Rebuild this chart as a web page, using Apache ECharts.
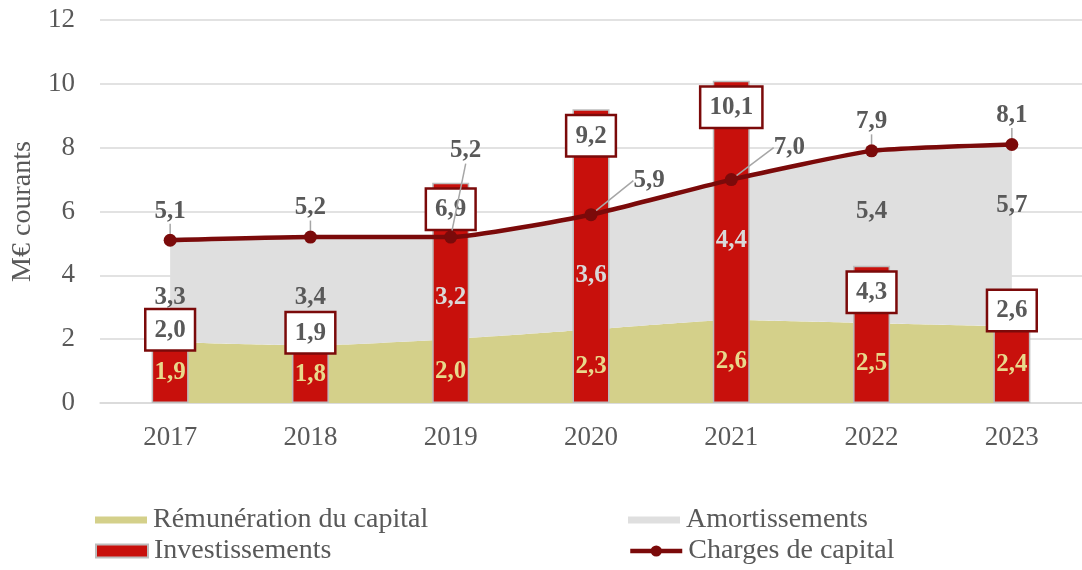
<!DOCTYPE html>
<html>
<head>
<meta charset="utf-8">
<script src="https://cdn.jsdelivr.net/npm/echarts@6/dist/echarts.min.js"></script>
<style>
  html, body { margin: 0; padding: 0; background: #fff; }
  #chart { width: 1082px; height: 570px; }
</style>
</head>
<body>
<div id="chart"></div>
<script>
// Capital costs, M€ (current euros)
const years = ['2017', '2018', '2019', '2020', '2021', '2022', '2023'];
const remuneration = [1.9, 1.8, 2.0, 2.3, 2.6, 2.5, 2.4];
const amortissements = [3.3, 3.4, 3.2, 3.6, 4.4, 5.4, 5.7];
const investissements = [2.0, 1.9, 6.9, 9.2, 10.1, 4.3, 2.6];
const charges = [5.1, 5.2, 5.2, 5.9, 7.0, 7.9, 8.1];
const yTicks = [0, 2, 4, 6, 8, 10, 12];

const FONT = '"Liberation Serif", "DejaVu Serif", serif';
const GREY_TEXT = '#595959';
const RED_BAR = '#C8100C';
const DARK_RED = '#7B0A0A';
const YELLOW = '#D4D08A';
const LIGHT_GREY = '#DFDFDF';

const fmt = v => v.toFixed(1).replace('.', ',');

const chart = echarts.init(document.getElementById('chart'), null, { renderer: 'canvas' });

// leader-line placements for the crowded line labels (2019-2021)
const lineLabelShift = { 2: [15, -57], 3: [58, -5], 4: [58, -3] };

// one legend entry per slot: two columns, two rows
function legendEntry(name, left, top, itemHeight, icon) {
  const entry = {
    data: [name], left: left, top: top, padding: 0,
    itemWidth: 52, itemHeight: itemHeight, itemGap: 0,
    lineStyle: { width: 4.5 },
    textStyle: { fontFamily: FONT, fontSize: 28, color: GREY_TEXT, lineHeight: 30, padding: [0, 0, 0, 1] }
  };
  if (icon) entry.icon = icon;
  return entry;
}

const option = {
  animation: false,
  textStyle: { fontFamily: FONT },
  grid: { left: 100, top: 20, width: 988, height: 383 },
  legend: [
    legendEntry('Rémunération du capital', 95, 505, 7, 'rect'),
    legendEntry('Investissements', 95, 536, 13, 'rect'),
    legendEntry('Amortissements', 628, 505, 7, 'rect'),
    legendEntry('Charges de capital', 628, 536, 14)
  ],
  xAxis: {
    type: 'category',
    data: years,
    boundaryGap: true,
    axisLine: { lineStyle: { color: '#D9D9D9', width: 1.5 } },
    axisTick: { show: false },
    axisLabel: { fontFamily: FONT, fontSize: 27, color: GREY_TEXT, margin: 21 }
  },
  yAxis: {
    type: 'value',
    min: yTicks[0], max: yTicks[yTicks.length - 1], interval: yTicks[1] - yTicks[0],
    name: 'M€ courants',
    nameLocation: 'middle', nameGap: 56, nameRotate: 90,
    nameTextStyle: { fontFamily: FONT, fontSize: 28, color: GREY_TEXT },
    axisLine: { show: false },
    axisTick: { show: false },
    axisLabel: { fontFamily: FONT, fontSize: 27, color: GREY_TEXT, margin: 25 },
    splitLine: { lineStyle: { color: '#D9D9D9', width: 1.5 } }
  },
  series: [
    {
      name: 'Rémunération du capital',
      type: 'line', stack: 'capital', z: 1, smooth: 0.15,
      symbol: 'none', lineStyle: { width: 0 },
      itemStyle: { color: YELLOW },
      areaStyle: { color: YELLOW, opacity: 1 },
      data: remuneration
    },
    {
      name: 'Amortissements',
      type: 'line', stack: 'capital', z: 1, smooth: 0.15,
      symbol: 'none', lineStyle: { width: 0 },
      itemStyle: { color: LIGHT_GREY },
      areaStyle: { color: LIGHT_GREY, opacity: 1 },
      data: amortissements
    },
    {
      name: 'Investissements',
      type: 'bar', z: 2, barWidth: 37,
      itemStyle: { color: RED_BAR, borderColor: '#BDBDBD', borderWidth: 1.5 },
      label: {
        show: true, position: 'insideTop', distance: 7,
        formatter: p => fmt(p.value),
        fontFamily: FONT, fontSize: 25, fontWeight: 'bold', color: GREY_TEXT,
        backgroundColor: '#fff', borderColor: DARK_RED, borderWidth: 2.5,
        padding: [6, 8, 5, 8], lineHeight: 28
      },
      data: investissements.map(v => (v < 3
        ? { value: v, label: { offset: [0, -36] } }
        : { value: v }))
    },
    {
      name: 'Charges de capital',
      type: 'line', z: 5, smooth: 0.15,
      symbol: 'circle', symbolSize: 13,
      lineStyle: { color: DARK_RED, width: 4.5 },
      itemStyle: { color: DARK_RED },
      label: {
        show: true, position: 'top', distance: 10,
        formatter: p => fmt(p.value),
        fontFamily: FONT, fontSize: 25, fontWeight: 'bold', color: GREY_TEXT
      },
      labelLine: { show: true, lineStyle: { color: '#A6A6A6', width: 1.5 } },
      labelLayout: p => {
        const s = lineLabelShift[p.dataIndex];
        return s ? { dx: s[0], dy: s[1] } : {};
      },
      data: charges
    },
    // value labels of the yellow band, centred in it and kept above the bars
    {
      name: 'lbl-rem',
      type: 'line', z: 6, silent: true,
      symbol: 'circle', symbolSize: 1,
      lineStyle: { width: 0, color: 'transparent' },
      itemStyle: { color: 'transparent' },
      label: {
        show: true, position: 'inside',
        formatter: p => fmt(p.value),
        fontFamily: FONT, fontSize: 25, fontWeight: 'bold', color: '#E8D98C'
      },
      labelLayout: p => {
        const i = p.dataIndex;
        const x = chart.convertToPixel({ xAxisIndex: 0 }, years[i]);
        const y = chart.convertToPixel({ yAxisIndex: 0 }, remuneration[i] / 2);
        return { x: x, y: y, align: 'center', verticalAlign: 'middle' };
      },
      data: remuneration
    },
    // value labels of the grey band, below its upper edge
    {
      name: 'lbl-amort',
      type: 'line', z: 6, silent: true,
      symbol: 'circle', symbolSize: 1,
      lineStyle: { width: 0, color: 'transparent' },
      itemStyle: { color: 'transparent' },
      label: {
        show: true, position: 'inside',
        formatter: p => fmt(amortissements[p.dataIndex]),
        fontFamily: FONT, fontSize: 25, fontWeight: 'bold'
      },
      labelLayout: () => ({ dy: 61, verticalAlign: 'middle' }),
      data: amortissements.map((v, i) => ({
        value: +(remuneration[i] + v).toFixed(1),
        label: { color: investissements[i] > remuneration[i] + v - 1.2 ? '#D9D9D9' : GREY_TEXT }
      }))
    }
  ]
};

chart.setOption(option);
</script>
</body>
</html>
